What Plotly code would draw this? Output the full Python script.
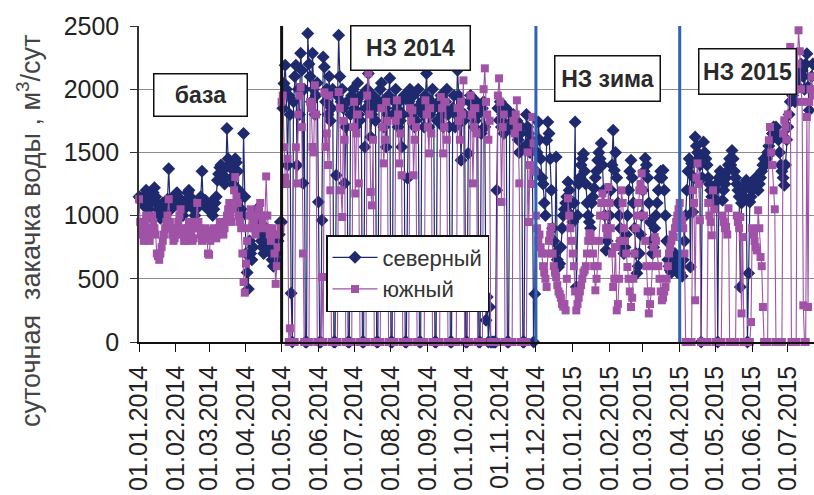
import pandas as pd
import plotly.graph_objects as go

# ---- data: daily injection, m3/day ----
# северный (north group)
north_base = [
    1150, 1140, 1130, 1100, 1080, 1150, 1200, 1180, 1050, 1000, 1100, 1150, 1180, 1220, 1150, 1100,
    1050, 1000, 980, 1050, 1100, 1080, 1050, 1100, 1130, 1370, 1120, 1050, 1080, 1100, 1150,
    1170, 1180, 1150, 1100, 1080, 1050, 1000, 1050, 1100, 1120, 1180, 1200, 1150, 1100, 1080, 1050,
    1000, 1050, 1100, 1080, 1100, 1150, 1350, 1100, 1080, 1120, 1100, 1050,
    1080, 1100, 1070, 1000, 1050, 1100, 1150, 1280, 1330, 1380, 1400, 1350, 1300, 1250, 1300, 1690,
    1450, 1400, 1380, 1300, 1250, 1350, 1450, 1420, 1350, 1200, 1150, 1050, 1000, 1650, 1150,
    700, 550, 420, 800, 700, 650, 750, 900, 1000, 1050, 1000, 950, 850, 800, 750, 700, 800, 900,
    850, 800, 750, 700, 650, 600, 700, 650, 700, 800, 850, 950,
]
north_nz2014 = [
    950, 1850, 2046, 2189, 2000, 1398, 1950, 1800, 385, 0, 1900, 2100,
    2189, 1398, 2000, 1800, 2284, 2150, 1255, 2000, 0, 0, 2440, 2200,
    2100, 1900, 2284, 2000, 1800, 1950, 2050, 1108, 0, 0, 963, 2255,
    2175, 1900, 2000, 1800, 2100, 1750, 1850, 2000, 0, 0, 1319, 1950,
    2426, 2100, 1900, 2000, 1850, 1255, 1700, 1900, 0, 0, 1800, 1950,
    2000, 1850, 1700, 1900, 2050, 1800, 1754, 1950, 0, 0, 1543, 1850,
    2000, 2125, 1900, 1622, 1800, 1950, 1850, 1750, 0, 0, 1900, 2000,
    2050, 1900, 1700, 1850, 1543, 1800, 1950, 2086, 0, 0, 1800, 1900,
    2000, 1850, 1700, 1900, 1750, 1543, 1800, 1950, 0, 0, 1295, 1900,
    2000, 1800, 1850, 1950, 1700, 1750, 1850, 2000, 0, 0, 1900, 1800, 1700,
    1950, 2125, 1850, 1700, 1800, 1900, 2000, 1850, 0, 0, 1750, 1900, 1850,
    1950, 1800, 1700, 1850, 1900, 2000, 1800, 1700, 0, 0, 1850, 1950, 1700, 1800,
    2149, 1950, 1800, 1437, 1900, 1750, 1800, 0, 0, 1492, 1900,
    1950, 1800, 1850, 1700, 1750, 1900, 1800, 0, 0, 1650, 1850,
    1900, 1700, 172, 356, 0, 277, 0, 0, 0, 0, 0, 1200,
    1850, 1754, 1900, 1700, 1800, 1650, 1700, 1850, 0, 0, 1701, 1800, 1750,
    1800, 1700, 1650, 1750, 1600, 1500, 1650, 1700, 0, 0, 1550, 1800,
    1700, 1650, 1500, 1600, 1550, 0, 380,
]
north_winter = [
    1350, 1500, 1740, 1600, 1450, 1300, 1250, 1100, 1000, 1596, 1740, 1650, 1450, 1200, 900, 800,
    701, 1463, 650, 593, 620, 750, 900, 1000, 1050, 1100, 1150, 1266, 1200, 1100, 1000,
    950, 1100, 1740, 435, 1000, 1250, 1300, 1400, 1450, 1490, 1350, 1250, 1100, 1000, 950, 900,
    1100, 1150, 1216, 1300, 1350, 1437, 1500, 1450, 1572, 1400, 1200, 1000, 725, 800, 900,
    1000, 1200, 1400, 1675, 1358, 1500, 1300, 1100, 1000, 900, 800, 750, 700, 750, 850, 1000,
    1200, 1350, 1437, 1300, 1100, 900, 700, 543, 600, 700, 850, 1000,
    1200, 1350, 1453, 1400, 1300, 1100, 950, 800, 700, 750, 900, 1000, 1100, 1200, 1300, 1350,
    1300, 1358, 1200, 1000, 800, 650, 600, 567, 550, 600, 650, 700, 600, 550, 650,
]
north_nz2015 = [
    550, 600, 520, 650, 800, 1000, 1200, 1350, 1450, 593, 1413, 1028, 1300,
    1622, 1550, 1500, 1450, 1400, 0, 1300, 1582,
    1500, 1450, 1400, 1300, 1250, 1200, 1150, 1147, 1100, 1200,
    1250, 0, 1300, 1350, 1319, 1121, 1200, 1250, 1300, 1350,
    1400, 1450, 1400, 1516, 1450, 1350, 1300, 1250, 1200, 1150,
    435, 1100, 1150, 1200, 1250, 1279, 0, 543, 1108, 1150,
    1200, 1226, 1250, 1300, 1250, 1200, 1250, 1300, 1350, 1400,
    1450, 1400, 1450, 1500, 1550, 1492, 1600, 1650, 1700, 1650,
    1701, 1650, 1600, 1500, 1400, 1350, 1300, 1240, 1400, 1600,
    1700, 1800, 1900, 2000, 1950, 2017, 1900, 2000, 2100, 2017,
    2100, 2200, 2150, 2100, 2000, 2200, 2281, 2017, 1833, 2000, 2100, 2200,
]

# южный (south group)
south_base = [
    1130, 950, 900, 850, 800, 950, 1000, 900, 850, 800, 900, 1000, 950, 900, 850, 700,
    680, 650, 700, 750, 800, 850, 900, 950, 1000, 1130, 950, 900, 850, 800, 820,
    850, 900, 950, 1000, 1050, 900, 850, 800, 800, 850, 900, 950, 900, 850, 800, 820,
    900, 950, 1100, 950, 900, 850, 800, 820, 850, 900, 880, 700,
    690, 800, 850, 880, 900, 850, 820, 850, 900, 950, 900, 880, 850, 900, 950, 1000,
    1050, 1100, 1000, 950, 1050, 1200, 1305, 1150, 1100, 1000, 950, 900, 700, 475, 390,
    620, 800, 900, 1000, 1050, 1000, 950, 900, 850, 900, 1000, 1050, 1100, 1000, 950, 900,
    1000, 1310, 1000, 900, 850, 800, 900, 850, 700, 460, 600, 750, 850, 900,
]
south_nz2014 = [
    1900, 1950, 1540, 1300, 1250, 1450, 0, 108, 0, 0, 0, 0,
    1540, 1255, 1800, 1950, 2017, 1700, 700, 0, 0, 0, 0, 0,
    1900, 1850, 1543, 1500, 2031, 1800, 0, 0, 0, 0, 514, 0,
    1975, 1543, 1650, 1400, 1951, 1200, 0, 0, 0, 0, 0, 0,
    1978, 1850, 1200, 989, 1750, 1600, 0, 0, 0, 0, 0, 0,
    1700, 1900, 1175, 1650, 1800, 1255, 0, 0, 0, 0, 0, 0,
    1950, 2125, 1800, 1187, 1081, 1600, 0, 0, 0, 0, 0, 0,
    1850, 1700, 1413, 1600, 1900, 1750, 0, 0, 0, 0, 0, 0,
    1750, 1912, 1800, 1413, 1650, 1319, 0, 0, 0, 0, 0, 0,
    1850, 1750, 1833, 1319, 1600, 1700, 0, 0, 0, 0, 0, 0, 0,
    1912, 1800, 1700, 1492, 1850, 1650, 0, 0, 0, 0, 0, 0, 0,
    1938, 1850, 1492, 1700, 1900, 1600, 0, 0, 0, 0, 0, 0, 0, 0,
    1850, 1750, 1600, 1900, 1800, 2070, 0, 0, 0, 0, 0,
    1950, 1800, 1255, 1700, 1850, 1650, 0, 0, 0, 0, 0,
    2000, 2165, 1900, 1800, 1600, 1750, 0, 0, 0, 0, 0, 0,
    1950, 2086, 1900, 1108, 1700, 1800, 0, 0, 0, 0, 0, 0, 0,
    1750, 1650, 1800, 1912, 1700, 1255, 0, 0, 0, 0, 0, 0,
    1500, 949, 1400, 1250, 1780, 1572, 1350,
]
south_winter = [
    1000, 900, 800, 850, 750, 700, 600, 550, 500, 435, 700, 800, 850, 910, 700, 600,
    550, 514, 450, 400, 380, 350, 300, 280, 300, 250, 500, 1137, 1000, 900, 800,
    700, 600, 400, 250, 300, 350, 400, 450, 500, 550, 567, 600, 700, 800, 860, 850,
    800, 700, 600, 409, 500, 600, 800, 1000, 1100, 1175, 1100, 1000, 900, 850, 1226,
    1100, 900, 700, 435, 500, 751, 250, 300, 500, 800, 1200, 1100, 900, 800, 700, 593,
    500, 400, 277, 350, 500, 700, 900, 1000, 1100, 1200, 1250, 1334,
    1200, 1000, 800, 600, 400, 226, 300, 400, 600, 750, 830, 800, 700, 600, 500, 400,
    330, 350, 400, 435, 500, 600, 700, 750, 800, 850, 830, 900, 950, 1000, 1050,
]
south_nz2015 = [
    1100, 1000, 960, 900, 700, 0, 0, 0, 0, 0, 0,
    1200, 1100, 330, 1300, 1413, 1250, 963, 0, 0, 0, 0, 0, 0,
    1100, 1000, 950, 844, 1200, 1050, 0, 0, 0, 0, 0, 0,
    1000, 950, 900, 910, 850, 1058, 0, 0, 0, 0, 0, 0,
    1000, 950, 900, 989, 226, 830, 0, 0, 0, 0, 0, 0,
    158, 900, 850, 800, 750, 725, 1042, 900, 672, 600, 277, 0, 0, 0, 0,
    1596, 1701, 1500, 1400, 1200, 1050, 0, 0, 0, 0, 0, 0,
    1650, 1754, 1700, 1600, 1800, 2100, 2334, 0, 0, 0, 0, 0,
    2200, 2466, 2300, 2000, 1900, 290, 0, 0,
    1780, 277, 1900, 2000, 2100, 1950,
]

north = north_base + north_nz2014 + north_winter + north_nz2015
south = south_base + south_nz2014 + south_winter + south_nz2015
start_date = "2014-01-01"
dates = pd.date_range(start_date, periods=len(north), freq="D")

series_names = ["северный", "южный"]
boundary_dates = ["2014-05-01", "2014-12-01", "2015-04-01"]
boundary_colors = ["#111111", "#2E63B5", "#2E63B5"]
period_labels = ["база", "НЗ 2014", "НЗ зима", "НЗ 2015"]
y_title = "суточная  закачка воды , м<sup>3</sup>/сут"

NAVY = "#1F2A6E"
PURPLE = "#A052A6"
FONT = "Arial, Liberation Sans, sans-serif"

fig = go.Figure()
fig.add_trace(go.Scatter(
    x=dates, y=north, name=series_names[0], mode="lines+markers",
    line=dict(color=NAVY, width=1.2),
    marker=dict(symbol="diamond", size=10, color=NAVY),
    cliponaxis=False,
))
fig.add_trace(go.Scatter(
    x=dates, y=south[:len(dates)], name=series_names[1], mode="lines+markers",
    line=dict(color=PURPLE, width=1.1),
    marker=dict(symbol="square", size=8, color=PURPLE),
    cliponaxis=False,
))

for d, c in zip(boundary_dates, boundary_colors):
    fig.add_shape(type="line", xref="x", yref="paper", x0=d, x1=d, y0=0, y1=1,
                  line=dict(color=c, width=3), layer="above")

L, R, T, B = 139, 0, 26, 153
PW, PH = 814 - L - R, 495 - T - B


def px(xp):
    return (xp - L) / PW


def py(yp):
    return (T + PH - yp) / PH


boxes = [  # (center x px, center y px, width, height)
    (200.5, 95, 95, 44),
    (410, 48, 121, 46),
    (607.5, 78, 107, 47),
    (747, 71.5, 99, 47),
]
for lab, (cx, cy, w, h) in zip(period_labels, boxes):
    fig.add_annotation(
        x=px(cx), y=py(cy), xref="paper", yref="paper", xanchor="center", yanchor="middle",
        text="<b>" + lab + "</b>", showarrow=False,
        font=dict(family=FONT, size=23, color="#2a2a2a"),
        bgcolor="white", bordercolor="#111111", borderwidth=1.5, borderpad=0,
        width=w - 3, height=h - 3,
    )

fig.add_annotation(
    x=px(29), y=py(231), xref="paper", yref="paper", xanchor="center", yanchor="middle",
    text=y_title, textangle=-90, showarrow=False,
    font=dict(family=FONT, size=27, color="#444444"),
)

fig.update_layout(
    width=814, height=495, autosize=False,
    margin=dict(l=L, r=R, t=T, b=B, pad=0),
    paper_bgcolor="white", plot_bgcolor="white",
    showlegend=True,
    legend=dict(
        x=px(326), y=py(235), xanchor="left", yanchor="top",
        bgcolor="white", bordercolor="#111111", borderwidth=1.5,
        itemwidth=45,
        font=dict(family=FONT, size=22, color="#333333"),
    ),
    xaxis=dict(
        type="date", range=["2014-01-01", "2015-07-23"],
        tick0="2014-01-01", dtick="M1", tickformat="%d.%m.%Y",
        tickangle=-90, ticks="outside", ticklen=8, tickcolor="#111111",
        ticklabelstandoff=4,
        showline=True, linecolor="#111111", linewidth=1.5,
        showgrid=False, zeroline=False,
        tickfont=dict(family=FONT, size=25, color="#222222"),
    ),
    yaxis=dict(
        range=[0, 2500], dtick=500, tick0=0,
        ticks="outside", ticklen=7, tickcolor="#333333",
        ticklabelstandoff=6,
        showline=True, linecolor="#333333", linewidth=1.5,
        showgrid=True, gridcolor="#8c8c8c", gridwidth=1, zeroline=False,
        tickfont=dict(family=FONT, size=25, color="#222222"),
    ),
)

fig.write_html("out.html", config={"displayModeBar": False},
               post_script="document.body.style.margin='0';")
